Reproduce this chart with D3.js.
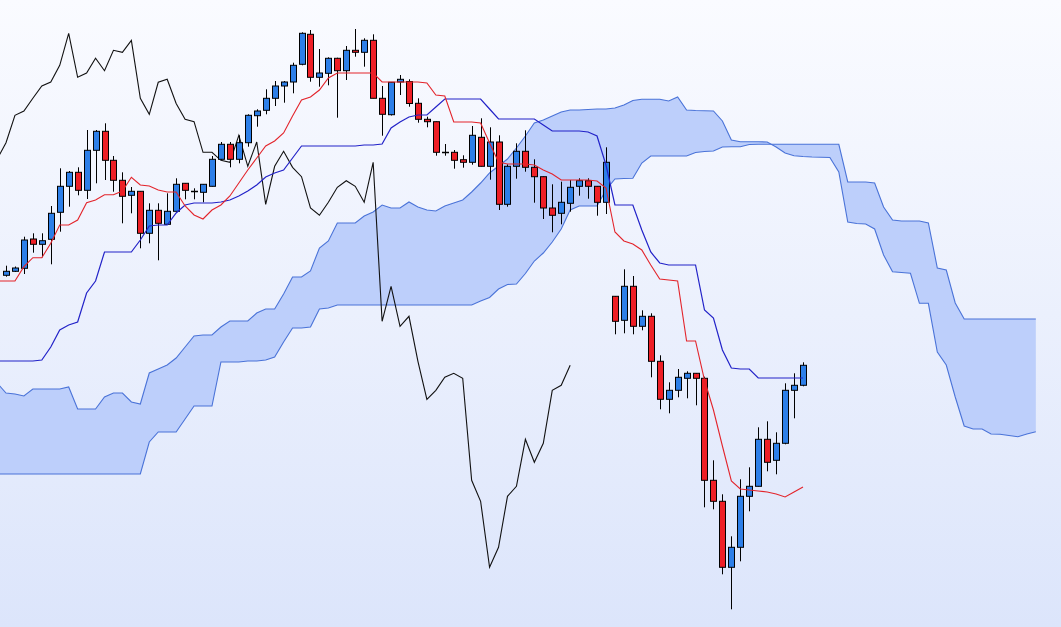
<!DOCTYPE html>
<html><head><meta charset="utf-8">
<script src="https://cdn.jsdelivr.net/npm/d3@7"></script>
<style>html,body{margin:0;padding:0;overflow:hidden;background:#fff}svg{display:block}</style>
</head><body><svg id="c" width="1061" height="627"></svg>
<script>
// ---- Candles (index 0..89) ----
const opens = [724.7,728.7,731.7,761,755.7,760.7,787.7,813.7,827.7,809.7,
849.7,868.7,839.7,819.7,804.7,808.7,766.7,789.7,775.7,788.7,
816.7,808.7,807.7,813.7,840.7,855.7,840.7,857.3,884.3,889.7,
901.7,914,918,935.7,965.7,922.7,926.7,941.7,929.3,949.7,
947.7,959.7,901.7,885.3,918,918.5,896.7,880.7,878.3,847.7,
847.7,840.3,837.7,862.7,833.7,858,795.7,833.7,848.7,832.7,
823.3,792,786.7,796.7,813.7,819.3,813.7,797.7,703.7,679.7,
713.7,673.7,683.7,638.7,600.7,609.7,621.7,626.7,621.7,519.7,
498.7,432.7,452.7,503.7,513.7,560.7,539.7,556.7,609.7,614.7];
const highs = [734.3,733.5,763.3,766.7,766.7,794,831.7,829,832.7,870,
870,876.7,844,827.7,813,809,796.7,796.7,806.7,821.7,
817,811.7,816,844,858,858,864.7,885.7,890.7,910.7,
919,919,937.3,967.7,970,951,942.7,942.3,954,971,
961.7,965.7,914,918,925,920.7,901.7,883.3,878.5,856,
850,844.7,874,881.7,872.7,864.7,835.7,856.7,869.7,840.7,
823.5,815.7,818.3,820,821.7,821.7,814,852.7,704,730.7,
724,689.7,686.7,644.7,617.7,631,628.7,627,623.3,539.7,
505.7,463.7,520.7,532.7,572.7,578.7,567.7,616.7,626.7,637.7];
const lows = [723.3,728,726,747.3,742.7,735.7,768.3,793.3,804.7,801,
816.7,820,808.3,776.7,786.7,751.7,756.7,739.7,775.7,788.7,
800.7,800.7,797.7,813.5,840,832.7,836.7,853.3,873.3,885.7,
894,897.3,906.7,934.7,918.3,913.3,914.7,882.3,920,943.3,
933.3,901.7,864.3,884.5,905,893.3,877.3,872.7,844.3,844.3,
831.3,832.3,835.3,833.5,820.3,790,793.3,821.3,828.3,797.3,
781,767.7,775.7,788.3,804.3,801.3,784.3,786,665.7,666.7,
665.7,669.7,622.7,590.7,586.7,602.7,601.7,594.7,492.7,490.7,
425.7,390.7,438.7,488.7,513.5,528.7,525.7,555.7,581.7,613.7];
const closes = [728.7,732,760,755.7,759.3,786.7,813.7,827.7,809.7,849.7,
868.7,839.7,819.7,803.7,808.7,766.7,789.7,776.7,788.7,815.7,
809.7,808.7,815.7,840.7,855.7,840.7,857.3,884.7,889,901.7,
914,918,934.7,966.7,922.7,927,941.7,929.3,949.7,947.7,
959.7,901.7,885.7,917.7,920.7,896.5,880.7,878.3,847.7,847.7,
839.7,837.7,864.7,833.7,858,795.7,833.7,848.7,832.7,823.3,
792,784.7,797.7,812.7,819.3,813.7,797.7,837.7,678.7,713.7,
673.7,683.7,638.7,600.7,609.7,622.7,626.7,621.7,519.7,498.7,
432.7,452.7,503.7,513.7,560.7,537.7,556.7,609.7,614.7,634.7];

// ---- Ichimoku lines (index -1..89) ----
const lineStart = -1;
const tenkan = [719,
719,719,733.3,742.3,742.3,756.7,775,775,780,797.3,
800,805.3,805.3,809,822.7,815,814,810,808,808,
794,785,781,790,795,804,817,830,842,854,
859,867,884,900,903,910,922,927,927,927,
927,927,918,918,918,918,918,917,905,904,
878,878,878,877,857,838,836,836,836,835,
830,826,820,820,820,820,819,812,768,759,
756,750,735,721,720,719,659,659,620,590,
554,519,511,510,509,508,506,503,508,513];
const kijun = [639,
639,639,639,639,640,653,670,675,678,707,
719,748,748,748,748,760,774,775,775,787,
795,797,797,797,798,800,804,809,815,823,
827,830,842,854,854,854,854,854,854,854,
855,855,856,872,878,883,885,885,893,901,
901,901,901,901,891,881,881,881,881,881,
875,869,869,869,869,868,864,835,795,795,
795,770,748,737,735,735,735,735,690,682,
650,632,631,631,622,622,622,622,622,622];

// ---- Cloud spans (index -1..115) ----
const spanA = [617,
607,606,604,611,611,611,611,613,591,591,
591,603,607,607,598,596,627,631,635,642,
653,664,665,665,673,679,679,679,687,691,
691,706,723,723,729,752,759,777,777,777,
784,788,795,792,792,798,793,790,789,794,
797,800,808,817,827,834,841,852,864,877,
880,884,888,890,890,890.5,891,891,892,895,
899.5,900.7,900.7,900.7,899,903,890,889.5,889.3,889,
879,860,858.3,858.3,858.3,858,853,847,844.3,843.5,
843,842.8,842.5,828,778,776.5,776,771,745,728.3,
727.5,726.7,696.7,696.7,648,635,603,574,571,571,
566,565.8,564.5,563.3,566,568.3];
const spanB = [526,
526,526,526,526,526,526,526,526,526,526,
526,526,526,526,526,526,558,568,568,568,
581,594,594,594,638,638,638,639,639,640,
643,658,672,672,673,691,692,695,695,695,
695,695,695,695,695,695,695,695,695,695,
695,695,695,699,702.5,711,715.5,716,726.5,739,
747,758,771,790,794,794,794,810,821,821.5,
821.7,837,844,844,844,844,844,847.5,848.5,849,
853,853.3,853.3,855.5,855.7,855.7,855.7,855.7,855.7,855.7,
855.7,855.7,855.7,855.7,818,818,818,817,793,780,
779,779,779,777,732,730,697,681,681,681,
681,681,681,681,681,681];
const chikouShift = 26;

// ---- Drawing ----
const W = 1061, H = 627;
const svg = d3.select('#c');
const x = d3.scaleLinear().domain([0, 115]).range([6, 6 + 115 * 8.955]);
const y = d3.scaleLinear().domain([1000, 373]).range([0, H]);

const defs = svg.append('defs');
const bg = defs.append('linearGradient').attr('id','bg').attr('x1',0).attr('y1',0).attr('x2',0).attr('y2',1);
bg.append('stop').attr('offset','0%').attr('stop-color','#fafbff');
bg.append('stop').attr('offset','100%').attr('stop-color','#dce5fb');
defs.append('clipPath').attr('id','clip').append('rect').attr('width',W).attr('height',H);

svg.append('rect').attr('width',W).attr('height',H).attr('fill','url(#bg)');
const g = svg.append('g').attr('clip-path','url(#clip)');

const cloudIdx = d3.range(spanA.length).map(k => k + lineStart);
const area = d3.area()
  .x(k => x(k)).y0(k => y(spanA[k - lineStart])).y1(k => y(spanB[k - lineStart]));
g.append('path').datum(cloudIdx).attr('d', area).attr('fill','#bdcffb').attr('stroke','none');
const cloudLine = arr => d3.line().x(k => x(k)).y(k => y(arr[k - lineStart]));
[spanA, spanB].forEach(arr => {
  g.append('path').datum(cloudIdx).attr('d', cloudLine(arr))
    .attr('fill','none').attr('stroke','#4a73d8').attr('stroke-width',1.1);
});

// Chikou span: closes drawn 26 periods back
const chIdx = d3.range(closes.length);
g.append('path').datum(chIdx)
  .attr('d', d3.line().x(i => x(i - chikouShift)).y(i => y(closes[i])))
  .attr('fill','none').attr('stroke','#111').attr('stroke-width',1.1);

// Candles
const bw = 6;
const cg = g.append('g');
closes.forEach((c, i) => {
  const o = opens[i];
  const left = Math.round(x(i) - bw / 2) + 0.5;
  const cx = left + bw / 2;
  cg.append('line').attr('x1', cx).attr('x2', cx)
    .attr('y1', y(highs[i])).attr('y2', y(lows[i]))
    .attr('stroke','#000').attr('stroke-width',1);
  const top = y(Math.max(o, c)), bot = y(Math.min(o, c));
  if (Math.abs(bot - top) < 0.8) {
    cg.append('line').attr('x1', left - 0.5).attr('x2', left + bw + 0.5)
      .attr('y1', Math.round(top) + 0.5).attr('y2', Math.round(top) + 0.5)
      .attr('stroke','#000').attr('stroke-width',1.5);
  } else {
    cg.append('rect').attr('x', left).attr('y', top)
      .attr('width', bw).attr('height', bot - top)
      .attr('fill', c >= o ? '#2d7fe8' : '#ee1f26')
      .attr('stroke','#000').attr('stroke-width',1);
  }
});

// Tenkan / Kijun
const lIdx = d3.range(tenkan.length).map(k => k + lineStart);
g.append('path').datum(lIdx)
  .attr('d', d3.line().x(k => x(k)).y(k => y(kijun[k - lineStart])))
  .attr('fill','none').attr('stroke','#2222c8').attr('stroke-width',1.2);
g.append('path').datum(lIdx)
  .attr('d', d3.line().x(k => x(k)).y(k => y(tenkan[k - lineStart])))
  .attr('fill','none').attr('stroke','#e3242b').attr('stroke-width',1.1);
</script>
</body></html>
